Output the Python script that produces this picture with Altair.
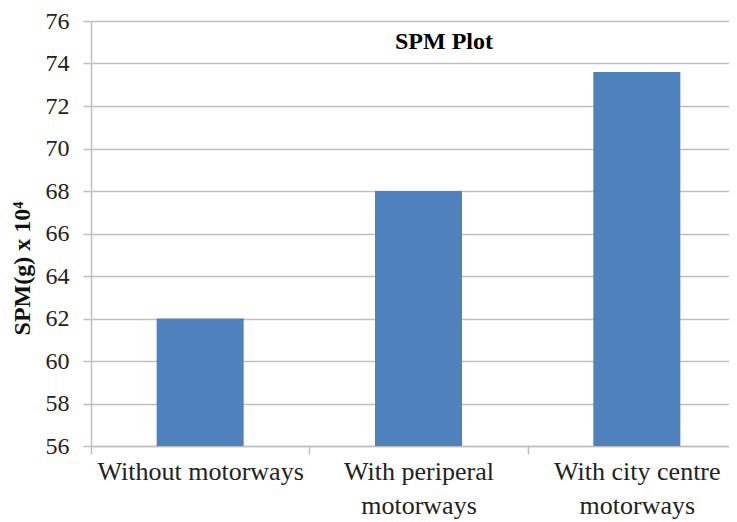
import altair as alt
import pandas as pd

categories = ["Without motorways", "With periperal motorways", "With city centre motorways"]
values = [62.0, 68.0, 73.6]
y_ticks = [56, 58, 60, 62, 64, 66, 68, 70, 72, 74, 76]

df = pd.DataFrame({"cat": categories, "val": values})

FONT = "Liberation Serif"
GRID = "#bfbfbf"

label_expr = (
    "!isValid(datum.value) ? '' : "
    "datum.value == 'Without motorways' ? datum.value : "
    "[replace(datum.value, ' motorways', ''), 'motorways']"
)

chart = (
    alt.Chart(df, title=alt.TitleParams(
        "SPM Plot", anchor="middle", dx=34, dy=40, offset=-29, baseline="bottom",
        font=FONT, fontSize=24, fontWeight="bold", color="#000000"))
    .mark_bar(color="#4f81bd", size=87, clip=True)
    .encode(
        x=alt.X("cat:N", sort=categories, title=None,
                scale=alt.Scale(range=[0, 655], paddingInner=0, paddingOuter=0),
                axis=alt.Axis(labelAngle=0, labelExpr=label_expr, tickBand="extent",
                              labelFont=FONT, labelFontSize=26, labelColor="#222222",
                              labelLineHeight=34, labelPadding=4, tickSize=8,
                              tickColor=GRID, domainColor=GRID, domainWidth=1.5,
                              tickWidth=1.5, labelLimit=400, labelBaseline="top")),
        y=alt.Y("val:Q", scale=alt.Scale(domain=[56, 76], nice=False, zero=False),
                axis=alt.Axis(values=y_ticks, title="SPM(g) x 10⁴",
                              titleFont=FONT, titleFontSize=24, titleFontWeight="bold",
                              titleColor="#111111", titleAngle=270,
                              titleX=-69, titleY=247, titleAlign="center",
                              titleBaseline="middle",
                              labelFont=FONT, labelFontSize=24,
                              labelColor="#222222", labelPadding=14,
                              tickSize=8, tickColor=GRID, tickWidth=1.5,
                              domainColor=GRID, domainWidth=1.5,
                              gridColor=GRID, gridWidth=1.5)),
    )
    .properties(width=638, height=425,
                autosize=alt.AutoSizeParams(type="none"),
                padding={"left": 83, "top": 13, "right": 0, "bottom": 76})
    .configure_view(stroke=None)
    .configure(background="white")
)

chart.save("out.html", embed_options={"renderer": "svg", "actions": False})
